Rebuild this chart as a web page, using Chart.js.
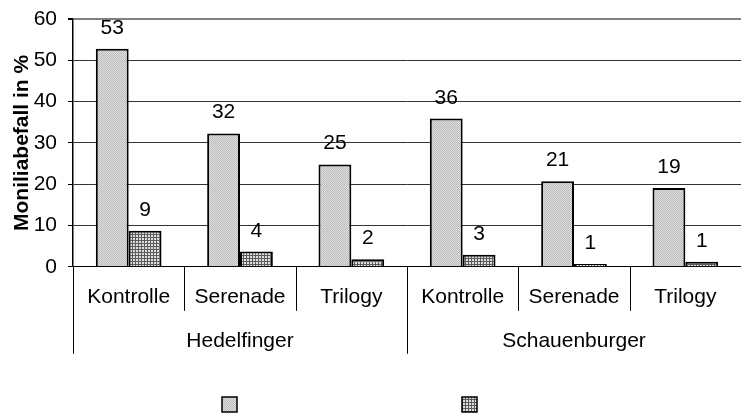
<!DOCTYPE html>
<html>
<head>
<meta charset="utf-8">
<script src="https://cdn.jsdelivr.net/npm/chart.js@4.4.0/dist/chart.umd.min.js"></script>
<style>
  body { margin: 0; background: #fff; }
  #wrap { width: 741px; height: 414px; }
</style>
</head>
<body>
<div id="wrap"><canvas id="myChart" width="741" height="414"></canvas></div>
<script>
const categories = ['Kontrolle', 'Serenade', 'Trilogy', 'Kontrolle', 'Serenade', 'Trilogy']
const groups = ['Hedelfinger', 'Schauenburger']
const groupSize = 3
const seriesA = [52.8, 32.3, 24.8, 35.9, 20.7, 19.1]
const seriesB = [8.7, 3.7, 1.8, 2.9, 0.7, 1.2]
const yMin = 0
const yMax = 60
const yStep = 10
const yTitle = 'Moniliabefall in %'

const fontFamily = '"Liberation Sans", Arial, sans-serif'
const canvas = document.getElementById('myChart')
const mainCtx = canvas.getContext('2d')

//small tiled fills, like the old office patterns
function makePattern(size, paint) {
  const c = document.createElement('canvas')
  c.width = size
  c.height = size
  const g = c.getContext('2d')
  for (let y = 0; y < size; y++) {
    for (let x = 0; x < size; x++) {
      g.fillStyle = paint(x, y)
      g.fillRect(x, y, 1, 1)
    }
  }
  return mainCtx.createPattern(c, 'repeat')
}

const dottedGrey = makePattern(4, (x, y) => ((x + y) % 2 === 0 ? '#bababa' : '#e0e0e0'))
const smallGrid = makePattern(3, (x, y) => (x === 0 || y === 0 ? '#5c5c5c' : '#dedede'))

//labels over bars, the two level x axis and the legend squares
const overlay = {
  id: 'overlay',
  afterDraw(chart) {
    const ctx = chart.ctx
    const xs = chart.scales.x
    const bottom = chart.chartArea.bottom
    ctx.save()

    ctx.font = '21px ' + fontFamily
    ctx.fillStyle = '#000'
    ctx.textAlign = 'center'
    ctx.textBaseline = 'alphabetic'
    chart.data.datasets.forEach((ds, i) => {
      chart.getDatasetMeta(i).data.forEach((bar, j) => {
        ctx.fillText(String(Math.round(ds.data[j])), bar.x, bar.y - 15)
      })
    })

    ctx.strokeStyle = '#000'
    ctx.lineWidth = 1
    for (let k = 0; k <= categories.length; k++) {
      const px = Math.round(xs.getPixelForValue(k - 0.5)) + 0.5
      const len = k % groupSize === 0 ? 87 : 44
      ctx.beginPath()
      ctx.moveTo(px, bottom)
      ctx.lineTo(px, bottom + len)
      ctx.stroke()
    }

    ctx.textBaseline = 'middle'
    groups.forEach((name, g) => {
      const a = xs.getPixelForValue(g * groupSize - 0.5)
      const b = xs.getPixelForValue((g + 1) * groupSize - 0.5)
      ctx.fillText(name, (a + b) / 2, bottom + 74)
    })

    const fills = [dottedGrey, smallGrid]
    const boxX = [222, 462]
    fills.forEach((f, i) => {
      ctx.fillStyle = f
      ctx.fillRect(boxX[i], 397, 15, 15)
      ctx.lineWidth = 1.5
      ctx.strokeRect(boxX[i], 397, 15, 15)
    })
    ctx.restore()
  }
}

new Chart(canvas, {
  type: 'bar',
  data: {
    labels: categories,
    datasets: [{
      data: seriesA,
      backgroundColor: dottedGrey,
      borderColor: '#000',
      borderWidth: 2,
      borderSkipped: 'bottom'
    }, {
      data: seriesB,
      backgroundColor: smallGrid,
      borderColor: '#000',
      borderWidth: 2,
      borderSkipped: 'bottom'
    }]
  },
  options: {
    responsive: false,
    animation: false,
    layout: { padding: { top: 19, right: 0, bottom: 86, left: 0 } },
    datasets: { bar: { categoryPercentage: 0.59, barPercentage: 1 } },
    scales: {
      x: {
        grid: { display: false, drawTicks: false },
        border: { display: true, color: '#000', width: 1 },
        ticks: {
          color: '#000',
          font: { family: fontFamily, size: 21 },
          padding: 18,
          maxRotation: 0,
          autoSkip: false
        }
      },
      y: {
        min: yMin,
        max: yMax,
        afterFit: (s) => { s.width = 73 },
        grid: {
          color: (c) => (c.tick && c.tick.value === yMax ? '#808080' : '#333'),
          lineWidth: (c) => (c.tick && c.tick.value === yMax ? 2 : 1),
          tickColor: '#000',
          tickLength: 5
        },
        border: { display: true, color: '#000', width: 1.5 },
        ticks: {
          stepSize: yStep,
          color: '#000',
          padding: 11,
          font: { family: fontFamily, size: 21, lineHeight: 0.6 }
        },
        title: {
          display: true,
          text: yTitle,
          color: '#000',
          padding: { top: 10, bottom: 0 },
          font: { family: fontFamily, size: 21, weight: 'bold' }
        }
      }
    },
    plugins: {
      legend: { display: false },
      tooltip: { enabled: false }
    }
  },
  plugins: [overlay]
})
</script>
</body>
</html>
